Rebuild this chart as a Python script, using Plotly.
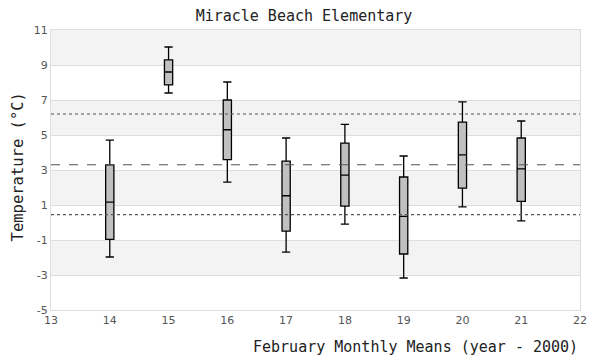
import plotly.graph_objects as go

years = [14, 15, 16, 17, 18, 19, 20, 21]
lower = [-1.97, 7.40, 2.31, -1.69, -0.09, -3.17, 0.89, 0.09]
q1 = [-0.96, 7.86, 3.59, -0.49, 0.94, -1.80, 1.97, 1.21]
median = [1.17, 8.60, 5.30, 1.53, 2.71, 0.35, 3.86, 3.06]
q3 = [3.29, 9.29, 7.00, 3.51, 4.54, 2.60, 5.74, 4.83]
upper = [4.71, 10.03, 8.03, 4.83, 5.61, 3.80, 6.89, 5.80]

overall_mean = 3.3
mean_plus_sd = 6.2
mean_minus_sd = 0.45

y_ticks = [-5, -3, -1, 1, 3, 5, 7, 9, 11]
y_tick_labels = ["-5", "-3", "-1", "1", "3", "5", "7", "9", "11"]
x_ticks = list(range(13, 23))
band_ranges = [(9, 11), (5, 7), (1, 3), (-3, -1)]

fig = go.Figure()
fig.add_trace(go.Box(
    x=years, q1=q1, median=median, q3=q3,
    lowerfence=lower, upperfence=upper,
    width=0.14, whiskerwidth=1,
    fillcolor="#c0c0c0", line=dict(color="black", width=1.3),
    boxpoints=False, showlegend=False,
))

shapes = []
for lo, hi in band_ranges:
    shapes.append(dict(type="rect", xref="paper", yref="y", x0=0, x1=1, y0=lo, y1=hi,
                       fillcolor="#f3f3f3", line=dict(width=0), layer="below"))
for val, dash in [(mean_plus_sd, "dot"), (overall_mean, "dash"), (mean_minus_sd, "dot")]:
    shapes.append(dict(type="line", xref="paper", yref="y", x0=0, x1=1, y0=val, y1=val,
                       line=dict(color="#555555", width=1.2, dash=dash), layer="above"))

fig.update_layout(
    width=592, height=352,
    margin=dict(l=43, r=20, t=22, b=50),
    paper_bgcolor="white", plot_bgcolor="white",
    shapes=shapes,
    title=dict(text="Miracle Beach Elementary", x=0.5, xanchor="center",
               y=1 - 8 / 352, yanchor="middle", yref="container",
               font=dict(family="DejaVu Sans Mono", size=15, color="#222")),
    xaxis=dict(range=[13, 22], tickvals=x_ticks, showgrid=False, zeroline=False,
               showline=True, linecolor="#dddddd", mirror=True, ticks="",
               tickfont=dict(family="DejaVu Sans", size=11, color="#555")),
    yaxis=dict(range=[-5, 11], tickvals=y_ticks, ticktext=y_tick_labels,
               showgrid=True, gridcolor="#dddddd",
               zeroline=False, showline=True, linecolor="#dddddd", mirror=True, ticks="",
               tickfont=dict(family="DejaVu Sans", size=11, color="#555")),
    annotations=[
        dict(text="February Monthly Means (year - 2000)", xref="paper", yref="paper",
             x=1, y=0, xanchor="right", yanchor="middle", yshift=-37, showarrow=False,
             font=dict(family="DejaVu Sans Mono", size=15, color="#222")),
        dict(text="Temperature (°C)", xref="paper", yref="paper",
             x=(17.5 - 51) / 529, y=0.511, xanchor="center", yanchor="middle",
             textangle=-90, showarrow=False,
             font=dict(family="DejaVu Sans Mono", size=15.5, color="#222")),
    ],
)

fig.write_html("out.html")
